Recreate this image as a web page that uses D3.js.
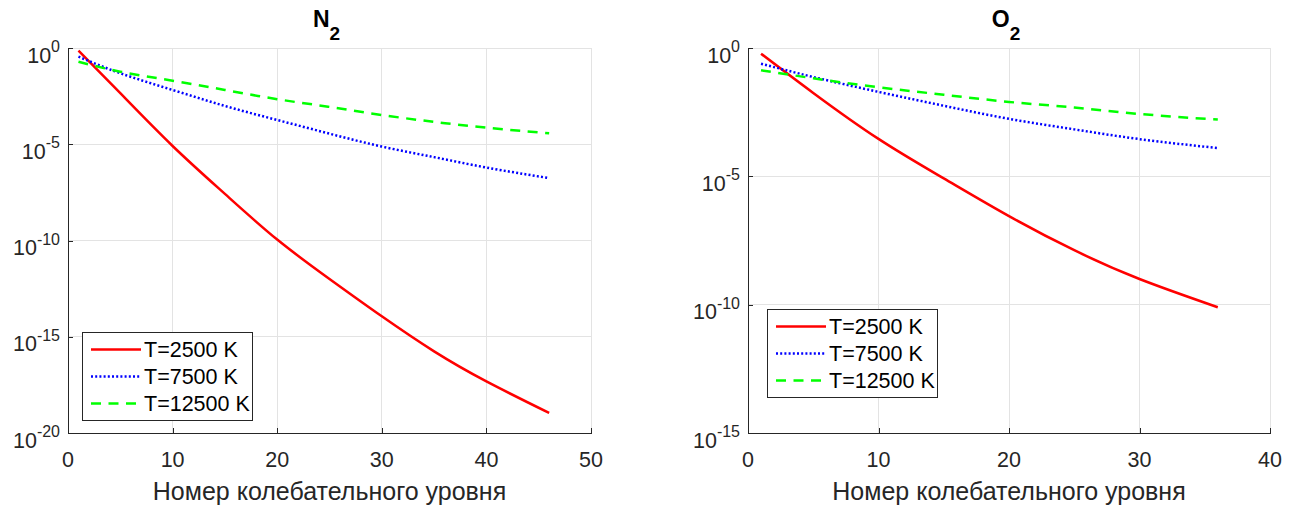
<!DOCTYPE html>
<meta charset='utf-8'>
<style>
body { margin: 0; background: #fff; }
svg { font-family: 'Liberation Sans', Arial, Helvetica, sans-serif; }
.grid line { stroke: #e3e3e3; stroke-width: 1; shape-rendering: crispEdges; }
.axis path, .axis line { stroke: #262626; shape-rendering: crispEdges; }
.tick-label { font-size: 21.5px; fill: #262626; }
.series { fill: none; stroke-width: 2.5; stroke-linejoin: round; }
</style>
<svg width='1299' height='506'></svg>
<script src='https://cdnjs.cloudflare.com/ajax/libs/d3/7.8.5/d3.min.js'></script>
<script>

// legend labels (same for both panels)
var seriesNames = ['T=2500 K', 'T=7500 K', 'T=12500 K'];

// N2: vibrational level numbers and relative populations
var n2Levels = [1, 5, 10, 15, 20, 25, 30, 35, 40, 46];
var n2T2500 = [7.24e-1, 4.47e-3, 8.13e-6, 2.63e-8, 1.12e-10, 1.00e-12, 1.15e-14, 1.74e-16, 4.79e-18, 1.10e-19];
var n2T7500 = [3.55e-1, 4.90e-2, 6.61e-3, 9.77e-4, 1.82e-4, 3.55e-5, 7.59e-6, 2.14e-6, 6.17e-7, 1.74e-7];
var n2T12500 = [1.95e-1, 5.89e-2, 2.00e-2, 6.61e-3, 2.19e-3, 8.71e-4, 3.31e-4, 1.45e-4, 7.24e-5, 3.72e-5];

// O2
var o2Levels = [1, 5, 10, 15, 20, 25, 30, 36];
var o2T2500 = [6.03e-1, 1.78e-2, 2.88e-4, 8.32e-6, 2.82e-7, 1.32e-8, 1.00e-9, 7.94e-11];
var o2T7500 = [2.45e-1, 7.41e-2, 1.95e-2, 5.62e-3, 1.74e-3, 6.76e-4, 2.82e-4, 1.26e-4];
var o2T12500 = [1.35e-1, 6.61e-2, 2.95e-2, 1.51e-2, 7.94e-3, 4.79e-3, 2.69e-3, 1.62e-3];

// tick values
var n2XTicks = [0, 10, 20, 30, 40, 50];
var n2YExp = [0, -5, -10, -15, -20];
var o2XTicks = [0, 10, 20, 30, 40];
var o2YExp = [0, -5, -10, -15];

var xLabel = 'Номер колебательного уровня';

var styles = [
    { color: '#ff0000', dash: null },
    { color: '#0000ff', dash: '2,2.2' },
    { color: '#00ff00', dash: '10,7.5' }
];

var svg = d3.select('svg');

function drawPanel(opt) {
    var g = svg.append('g');
    var x = d3.scaleLinear().domain(opt.xDomain).range([opt.left, opt.right]);
    var y = d3.scaleLog().domain([Math.pow(10, d3.min(opt.yExp)), 1]).range([opt.bottom, opt.top]);
    var yTicks = opt.yExp.map(function (e) { return Math.pow(10, e); });

    // grid
    var grid = g.append('g').attr('class', 'grid');
    grid.selectAll('.gx').data(opt.xTicks).join('line')
        .attr('x1', d => x(d)).attr('x2', d => x(d))
        .attr('y1', opt.top).attr('y2', opt.bottom);
    grid.selectAll('.gy').data(yTicks).join('line')
        .attr('class', 'gy')
        .attr('x1', opt.left).attr('x2', opt.right)
        .attr('y1', d => y(d)).attr('y2', d => y(d));

    // axes with inward ticks
    g.append('g').attr('class', 'axis')
        .attr('transform', 'translate(0,' + opt.bottom + ')')
        .call(d3.axisBottom(x).tickValues(opt.xTicks).tickSizeInner(-5).tickSizeOuter(0).tickFormat(''));
    g.append('g').attr('class', 'axis')
        .attr('transform', 'translate(' + opt.left + ',0)')
        .call(d3.axisLeft(y).tickValues(yTicks).tickSizeInner(-5).tickSizeOuter(0).tickFormat(''));

    g.selectAll('.xl').data(opt.xTicks).join('text')
        .attr('class', 'tick-label')
        .attr('x', d => x(d)).attr('y', opt.bottom + 34)
        .attr('text-anchor', 'middle')
        .text(d => d);

    var yl = g.selectAll('.yl').data(opt.yExp).join('text')
        .attr('class', 'tick-label')
        .attr('x', opt.left - 8)
        .attr('y', d => y(Math.pow(10, d)) + 14.5)
        .attr('text-anchor', 'end');
    yl.append('tspan').text('10');
    yl.append('tspan').attr('dy', -10.5).style('font-size', '16px').text(d => d === 0 ? '0' : '-' + Math.abs(d));

    // curves
    var line = d3.line()
        .x(d => x(d[0]))
        .y(d => y(d[1]))
        .curve(d3.curveNatural);
    opt.series.forEach(function (vals, i) {
        g.append('path')
            .attr('class', 'series')
            .attr('d', line(opt.levels.map((l, j) => [l, vals[j]])))
            .attr('stroke', styles[i].color)
            .attr('stroke-dasharray', styles[i].dash);
    });

    // title with subscript
    var t = g.append('text')
        .attr('x', (opt.left + opt.right) / 2 - 3)
        .attr('y', 27)
        .attr('text-anchor', 'middle')
        .style('font-weight', 'bold')
        .style('font-size', '23px')
        .attr('fill', '#000');
    t.append('tspan').text(opt.title);
    t.append('tspan').attr('dy', 13).style('font-size', '19px').text('2');

    g.append('text')
        .attr('x', (opt.left + opt.right) / 2)
        .attr('y', 500)
        .attr('text-anchor', 'middle')
        .style('font-size', '25px')
        .attr('fill', '#262626')
        .text(xLabel);

    // legend
    var lg = g.append('g').attr('transform', 'translate(' + opt.legend[0] + ',' + opt.legend[1] + ')');
    lg.append('rect')
        .attr('width', 170).attr('height', 88)
        .attr('fill', '#fff').attr('stroke', '#262626').attr('stroke-width', 1)
        .attr('shape-rendering', 'crispEdges');
    seriesNames.forEach(function (name, i) {
        var ry = 17.5 + i * 27;
        lg.append('line')
            .attr('x1', 9).attr('x2', 59).attr('y1', ry).attr('y2', ry)
            .attr('stroke', styles[i].color).attr('stroke-width', 2.5)
            .attr('stroke-dasharray', styles[i].dash);
        lg.append('text')
            .attr('x', 62).attr('y', ry + 7.5)
            .style('font-size', '21.5px').attr('fill', '#000')
            .text(name);
    });
}

drawPanel({
    title: 'N', left: 68, right: 591, top: 48, bottom: 433,
    xDomain: [0, 50], xTicks: n2XTicks, yExp: n2YExp,
    levels: n2Levels, series: [n2T2500, n2T7500, n2T12500],
    legend: [82, 332]
});

drawPanel({
    title: 'O', left: 748, right: 1270, top: 48, bottom: 433,
    xDomain: [0, 40], xTicks: o2XTicks, yExp: o2YExp,
    levels: o2Levels, series: [o2T2500, o2T7500, o2T12500],
    legend: [767, 309]
});
</script>
